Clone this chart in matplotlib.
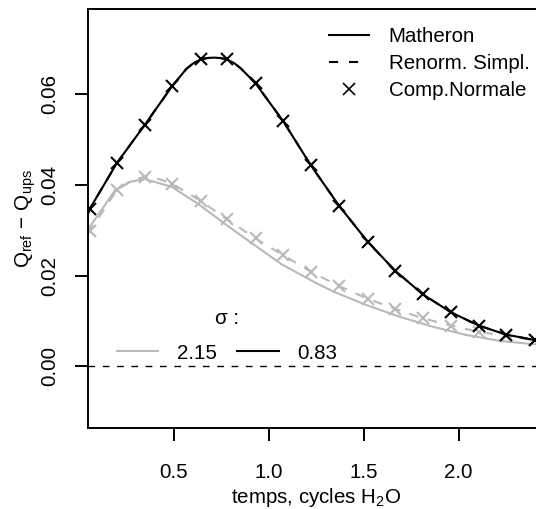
import matplotlib
matplotlib.use("Agg")
import matplotlib.pyplot as plt
from matplotlib.lines import Line2D

plt.rcParams['font.family'] = ['Liberation Sans', 'DejaVu Sans']
plt.rcParams['mathtext.fontset'] = 'custom'
plt.rcParams['mathtext.rm'] = 'Liberation Sans'
plt.rcParams['mathtext.it'] = 'Liberation Sans'
plt.rcParams['mathtext.sf'] = 'Liberation Sans'

FS = 14.8
GRAY = '#b9b9b9'
DASH = (4.6, 4.6)

# times of the Comp.Normale markers
t_marks = [0.057, 0.20, 0.345, 0.49, 0.64, 0.78, 0.93, 1.075, 1.22, 1.37,
           1.52, 1.665, 1.81, 1.96, 2.105, 2.25, 2.40]
# sigma = 0.83
cn_083 = [0.0348, 0.0449, 0.0532, 0.0618, 0.0677, 0.0677, 0.0624, 0.0541, 0.0444,
          0.0354, 0.0275, 0.0211, 0.0159, 0.0119, 0.0090, 0.0070, 0.0058]
# sigma = 2.15
cn_215 = [0.0299, 0.0389, 0.0418, 0.0403, 0.0365, 0.0324, 0.0282, 0.0245, 0.0209,
          0.0177, 0.0149, 0.0127, 0.0106, 0.0090, 0.0076, 0.0067, 0.0057]

# Matheron / Renorm. Simpl. curves, sigma = 0.83 (both overlap)
t_083 = [0.047, 0.057, 0.20, 0.345, 0.49, 0.565, 0.60, 0.64, 0.675, 0.71, 0.745,
         0.78, 0.82, 0.855, 0.93, 1.075, 1.22, 1.37, 1.52, 1.665, 1.81, 1.96,
         2.105, 2.25, 2.40, 2.45]
mat_083 = [0.0337, 0.0348, 0.0449, 0.0532, 0.0618, 0.0656, 0.0668, 0.0677, 0.0680,
           0.0681, 0.0680, 0.0677, 0.0668, 0.0656, 0.0624, 0.0541, 0.0444, 0.0354,
           0.0275, 0.0211, 0.0159, 0.0119, 0.0090, 0.0070, 0.0058, 0.0055]
ren_083 = mat_083

# Matheron, sigma = 2.15
t_mat215 = [0.047, 0.189, 0.27, 0.347, 0.488, 0.628, 0.769, 0.909, 1.067, 1.164,
            1.252, 1.339, 1.515, 1.691, 1.866, 2.042, 2.218, 2.393, 2.45]
mat_215 = [0.0302, 0.0388, 0.0407, 0.0413, 0.0396, 0.0358, 0.0314, 0.0272, 0.0225,
           0.0203, 0.0183, 0.0165, 0.0135, 0.0109, 0.0087, 0.0069, 0.0056, 0.0049,
           0.0047]

# Renorm. Simpl., sigma = 2.15
t_ren215 = [0.047, 0.057, 0.20, 0.27, 0.345, 0.42, 0.49, 0.64, 0.78, 0.93, 1.075,
            1.22, 1.37, 1.52, 1.665, 1.81, 1.96, 2.105, 2.25, 2.40, 2.45]
ren_215 = [0.0293, 0.0299, 0.0389, 0.0409, 0.0418, 0.0413, 0.0403, 0.0365, 0.0324,
           0.0282, 0.0245, 0.0209, 0.0177, 0.0149, 0.0127, 0.0106, 0.0090, 0.0076,
           0.0067, 0.0057, 0.0055]

x_ticks = [0.5, 1.0, 1.5, 2.0]
y_ticks = [0.00, 0.02, 0.04, 0.06]

fig = plt.figure(figsize=(5.36, 5.09), dpi=100)
ax = fig.add_axes([88 / 536, 1 - 427.7 / 509, 457 / 536, 418.7 / 509])

ax.axhline(0, color='black', lw=1.0, dashes=(4.8, 5.5))

ax.plot(t_mat215, mat_215, color=GRAY, lw=1.5)
ax.plot(t_ren215, ren_215, color=GRAY, lw=1.5, dashes=DASH)
ax.plot(t_marks, cn_215, ls='none', marker='x', ms=8, mew=1.5, color=GRAY)

ax.plot(t_083, mat_083, color='black', lw=1.5)
ax.plot(t_083, ren_083, color='black', lw=1.5, dashes=DASH)
ax.plot(t_marks, cn_083, ls='none', marker='x', ms=8, mew=1.5, color='black')

ax.set_xlim(0.0469, 2.4547)
ax.set_ylim(-0.01354, 0.07882)
ax.set_xticks(x_ticks)
ax.set_xticklabels([f'{v:.1f}' for v in x_ticks])
ax.set_yticks(y_ticks)
ax.set_yticklabels([f'{v:.2f}' for v in y_ticks], rotation=90, va='center')
ax.tick_params(direction='out', length=9.5, width=1.4, labelsize=FS)
ax.tick_params(axis='x', pad=16)
ax.tick_params(axis='y', pad=11.5)
for s in ax.spines.values():
    s.set_linewidth(1.4)

ax.set_xlabel(r'temps, cycles $\mathregular{H_2O}$', fontsize=FS, labelpad=3)
ax.set_ylabel(r'$\mathregular{Q_{ref}\,-\,Q_{ups}}$', fontsize=FS, labelpad=1)

h1 = [Line2D([], [], color='black', lw=1.5),
      Line2D([], [], color='black', lw=1.5, dashes=(4.4, 5.2)),
      Line2D([], [], color='black', ls='none', marker='x', ms=8, mew=1.2)]
leg1 = ax.legend(h1, ['Matheron', 'Renorm. Simpl.', 'Comp.Normale'],
                 loc='upper left', bbox_to_anchor=(0.527, 0.957), frameon=False,
                 fontsize=FS, borderpad=0, borderaxespad=0, handlelength=1.95,
                 handletextpad=0.97, labelspacing=0.4)
ax.add_artist(leg1)

h2 = [Line2D([], [], color=GRAY, lw=1.5), Line2D([], [], color='black', lw=1.5)]
ax.legend(h2, ['2.15', '0.83'], title='σ :', title_fontsize=FS, ncol=2,
          loc='upper left', bbox_to_anchor=(0.0635, 0.283), frameon=False,
          fontsize=FS, borderpad=0, borderaxespad=0, handlelength=2.0,
          handletextpad=0.92, columnspacing=1.0, labelspacing=0.75)

fig.savefig('out.png', dpi=100)
